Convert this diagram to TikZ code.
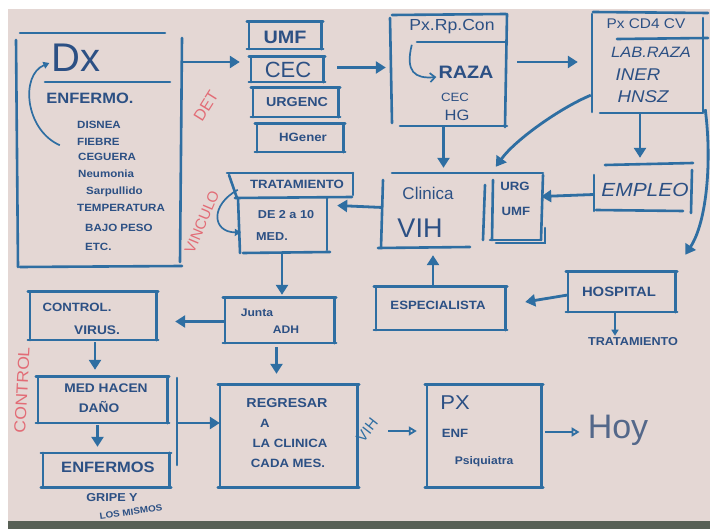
\documentclass[tikz,border=0pt]{standalone}
\usepackage{fontspec}
\newfontfamily\handfont{Liberation Sans}[FakeStretch=1.1]
\newfontfamily\plainfont{Liberation Sans}
\usetikzlibrary{arrows.meta,calc,fit}
\definecolor{paper}{RGB}{228,215,212}
\definecolor{ink}{RGB}{46,110,162}
\definecolor{txt}{RGB}{44,80,132}
\definecolor{redink}{RGB}{226,108,118}
\definecolor{hoyink}{RGB}{84,104,138}
\definecolor{floor}{RGB}{88,96,86}
\newcommand\hsz[1]{\fontsize{#1}{#1}\selectfont}
\newcommand\hb{\handfont\bfseries}
% a marker-drawn box: four separate strokes, top and bottom slightly overhanging
\newcommand\sketchbox[1]{%
  \draw[boxline] ($(#1.north west)+(-2,0)$) -- ($(#1.north east)+(2,0)$);
  \draw[boxline] ($(#1.south west)+(-2,0)$) -- ($(#1.south east)+(2,0)$);
  \draw[boxline] (#1.north west) -- (#1.south west);
  \draw[boxline] (#1.north east) -- (#1.south east);}
\begin{document}
\begin{tikzpicture}[x=1pt,y=-1pt,
  boxline/.style={draw=ink,line width=2.6pt,line cap=round},
  arr/.style={draw=ink,line width=2.8pt,-{Triangle[length=10pt,width=12pt]}},
  oarr/.style={draw=ink,line width=1.8pt,-{Triangle[open,length=8pt,width=9pt]}},
  thinarr/.style={draw=ink,line width=1.7pt,-{Triangle[length=6pt,width=7pt]}},
  area/.style={inner sep=0pt,draw=none},
  lbl/.style={inner sep=0pt,text=txt},
  redlbl/.style={inner sep=0pt,text=redink,font=\plainfont\hsz{16}},
]
% sheet of paper
\useasboundingbox (0,0) rectangle (710,529);
\fill[white] (0,0) rectangle (710,529);
\fill[paper] (8,9) rectangle (710,521);
\fill[floor] (8,521) rectangle (710,529);

% ---------- box areas ----------
\node[area,fit={(18,33) (181,267)}] (dx) {};
\node[area,fit={(249,22) (321,49)}] (umf) {};
\node[area,fit={(251,57) (323,82)}] (cec) {};
\node[area,fit={(253,88) (338,117)}] (urg) {};
\node[area,fit={(257,124) (343,152)}] (hgen) {};
\node[area,fit={(390,15) (507,127)}] (pxrp) {};
\node[area,fit={(592,13) (704,112)}] (cd4) {};
\node[area,fit={(383,173) (487,248)}] (clin) {};
\node[area,fit={(491,173) (543,240)}] (urgumf) {};
\node[area,fit={(594,166) (692,211)}] (empleo) {};
\node[area,fit={(230,173) (353,253)}] (trat) {};
\node[area,fit={(238,198) (328,253)}] (tratb) {};
\node[area,fit={(225,298) (334,343)}] (junta) {};
\node[area,fit={(376,287) (505,330)}] (esp) {};
\node[area,fit={(568,272) (675,312)}] (hosp) {};
\node[area,fit={(220,385) (357,487)}] (regr) {};
\node[area,fit={(427,385) (541,487)}] (pxe) {};
\node[area,fit={(30,292) (156,340)}] (ctrl) {};
\node[area,fit={(38,377) (167,423)}] (med) {};
\node[area,fit={(43,453) (169,487)}] (enf) {};

% ---------- box strokes ----------
% Dx
\draw[boxline] (20,33) -- (165,33);
\draw[boxline] (16,40) -- (18,267);
\draw[boxline] (182,38) -- (180,262);
\draw[boxline] (20,267) -- (182,266);
\draw[boxline] (45,82) -- (170,82);
% Px.Rp.Con
\draw[boxline] (392,15) -- (506,14);
\draw[boxline] (390,18) -- (392,123);
\draw[boxline] (507,14) -- (505,127);
\draw[boxline] (400,126) -- (507,126);
\draw[boxline] (417,42) -- (507,42);
% Px CD4 CV
\draw[boxline] (593,12) -- (708,13);
\draw[boxline] (592,14) -- (592,112);
\draw[boxline] (703,18) -- (703,112);
\draw[boxline] (600,113) -- (703,113);
\draw[boxline] (617,39) -- (708,38);
% Clinica VIH
\draw[boxline] (392,173) -- (543,173);
\draw[boxline] (383,180) -- (381,248);
\draw[boxline] (378,248) -- (470,247);
\draw[boxline] (485,185) -- (483,240);
% URG / UMF
\draw[boxline] (493,180) -- (492,240);
\draw[boxline] (543,175) -- (541,240);
\draw[boxline] (490,240) -- (541,240);
\draw[boxline] (496,243) -- (545,243) -- (545,228);
% Empleo
\draw[boxline] (605,165) -- (693,163);
\draw[boxline] (594,175) -- (594,211);
\draw[boxline] (692,170) -- (691,213);
\draw[boxline] (596,210) -- (683,211);
% Tratamiento
\draw[boxline] (227,173) -- (353,173);
\draw[boxline] (229,175) -- (237,198);
\draw[boxline] (353,173) -- (353,195);
\draw[boxline] (235,198) -- (352,197);
\draw[boxline] (238,198) -- (240,253);
\draw[boxline] (327,198) -- (327,250);
\draw[boxline] (243,253) -- (330,252);
% simple boxes
\sketchbox{umf}
\sketchbox{cec}
\sketchbox{urg}
\sketchbox{hgen}
\sketchbox{junta}
\sketchbox{esp}
\sketchbox{hosp}
\sketchbox{regr}
\sketchbox{pxe}
\sketchbox{ctrl}
\sketchbox{med}
\sketchbox{enf}

% ---------- texts ----------
\node[lbl,font=\plainfont\hsz{40}] (t-dx) at (76,58) {Dx};
\node[lbl,font=\hb\hsz{15}] (t-enfermo) at (90,98) {ENFERMO.};
\begin{scope}[every node/.style={lbl,anchor=west,font=\hb\hsz{10.5}}]
\node (t-l1) at (77,125) {DISNEA};
\node (t-l2) at (77,142) {FIEBRE};
\node (t-l3) at (78,157) {CEGUERA};
\node (t-l4) at (78,174) {Neumonia};
\node (t-l5) at (86,192) {Sarpullido};
\node (t-l6) at (77,208) {TEMPERATURA};
\node (t-l7) at (85,228) {BAJO PESO};
\node (t-l8) at (85,247) {ETC.};
\end{scope}

\node[lbl,font=\hb\hsz{18}] (t-umf) at (285,37) {UMF};
\node[lbl,font=\plainfont\hsz{22}] (t-cec) at (288,70) {CEC};
\node[lbl,font=\hb\hsz{13}] (t-urg) at (297,102) {URGENC};
\node[lbl,font=\hb\hsz{12}] (t-hgen) at (303,137) {HGener};

\node[lbl,font=\handfont\hsz{16}] (t-pxrp) at (452,27) {Px.Rp.Con};
\node[lbl,font=\hb\hsz{18}] (t-raza) at (466,72) {RAZA};
\node[lbl,font=\handfont\hsz{12}] (t-cec2) at (455,97) {CEC};
\node[lbl,font=\handfont\hsz{15}] (t-hg) at (457,115) {HG};

\node[lbl,font=\handfont\hsz{14}] (t-cd4) at (646,24) {Px CD4 CV};
\node[lbl,font=\handfont\itshape\hsz{15}] (t-lab) at (651,52) {LAB.RAZA};
\node[lbl,font=\handfont\itshape\hsz{17}] (t-iner) at (638,75) {INER};
\node[lbl,font=\handfont\itshape\hsz{17}] (t-hnsz) at (643,97) {HNSZ};

\node[lbl,font=\plainfont\hsz{17}] (t-clin) at (428,193) {Clinica};
\node[lbl,font=\plainfont\hsz{27}] (t-vih) at (420,228) {VIH};
\node[lbl,font=\hb\hsz{12}] (t-urg2) at (515,186) {URG};
\node[lbl,font=\hb\hsz{12}] (t-umf2) at (516,211) {UMF};
\node[lbl,font=\handfont\itshape\hsz{19}] (t-empleo) at (645,190) {EMPLEO};

\node[lbl,font=\hb\hsz{12}] (t-trat) at (297,184) {TRATAMIENTO};
\node[lbl,font=\hb\hsz{11.5}] (t-de) at (286,215) {DE 2 a 10};
\node[lbl,font=\hb\hsz{11.5}] (t-med) at (272,237) {MED.};

\node[lbl,font=\hb\hsz{11}] (t-junta) at (257,313) {Junta};
\node[lbl,font=\hb\hsz{11}] (t-adh) at (286,330) {ADH};

\node[lbl,font=\hb\hsz{13}] (t-regr) at (287,403) {REGRESAR};
\node[lbl,font=\hb\hsz{12}] (t-a) at (265,423) {A};
\node[lbl,font=\hb\hsz{12}] (t-lacl) at (290,443) {LA CLINICA};
\node[lbl,font=\hb\hsz{12}] (t-cada) at (288,463) {CADA MES.};
\node[lbl,text=ink,font=\plainfont\hsz{15},rotate=52] (t-vih2) at (367,430) {VIH};

\node[lbl,font=\handfont\hsz{20}] (t-px) at (455,403) {PX};
\node[lbl,font=\hb\hsz{12}] (t-enf2) at (455,433) {ENF};
\node[lbl,font=\hb\hsz{11}] (t-psiq) at (484,462) {Psiquiatra};
\node[lbl,text=hoyink,font=\plainfont\hsz{34}] (hoy) at (618,430) {Hoy};

\node[lbl,font=\hb\hsz{12}] (t-esp) at (438,305) {ESPECIALISTA};
\node[lbl,font=\hb\hsz{13.5}] (t-hosp) at (619,292) {HOSPITAL};
\node[lbl,font=\hb\hsz{11.5}] (htrat) at (633,342) {TRATAMIENTO};

\node[lbl,font=\hb\hsz{12}] (t-ctrl) at (77,307) {CONTROL.};
\node[lbl,font=\hb\hsz{12.5}] (t-virus) at (97,330) {VIRUS.};
\node[lbl,font=\hb\hsz{12.5}] (t-hacen) at (106,388) {MED HACEN};
\node[lbl,font=\hb\hsz{12.5}] (t-dano) at (99,407) {DAÑO};
\node[lbl,font=\hb\hsz{15}] (t-enfermos) at (108,467) {ENFERMOS};
\node[lbl,font=\hb\hsz{11.5}] (t-gripe) at (112,498) {GRIPE Y};
\node[lbl,font=\hb\hsz{9},rotate=8] (t-mismos) at (131,512) {LOS MISMOS};

% red side notes
\node[redlbl,rotate=58] (t-det) at (206,106) {DET};
\node[redlbl,font=\plainfont\hsz{15},rotate=67] (t-vinculo) at (202,222) {VINCULO};
\node[redlbl,font=\handfont\hsz{16},rotate=87] (t-control) at (22,390) {CONTROL};

% ---------- connectors ----------
\coordinate (r62) at (0,62);
\draw[arr] (dx.east |- r62) -- ($(cec.west |- r62)+(-11,0)$);
\draw[arr] ($(cec.east)+(14,-2)$) -- ($(pxrp.west |- cec.east)+(-4,-2)$);
\draw[arr] ($(pxrp.east |- r62)+(10,0)$) -- ($(cd4.west |- r62)+(-14,0)$);
\draw[arr] ($(pxrp.south)+(-5,0)$) -- ($(clin.north -| pxrp.south)+(-5,-5)$);
\draw[arr] ($(cd4.south west)+(-1,-17)$) .. controls (560,108) and (515,140) .. ($(urgumf.north west)+(5,-6)$);
\draw[arr] ($(cd4.south)+(-8,0)$) -- ($(empleo.north -| cd4.south)+(-8,-8)$);
\draw[arr] ($(cd4.south east)+(1,-3)$) .. controls (712,160) and (707,222) .. ($(hosp.north east)+(10,-17)$);
\draw[arr] ($(empleo.west)+(0,6)$) -- ($(urgumf.east)+(-2,-10)$);
\draw[arr] ($(clin.west)+(0,-3)$) -- ($(tratb.east)+(9,-20)$);
\draw[arr] ($(tratb.south)+(-1,0)$) -- ($(junta.north -| tratb.south)+(-1,-3)$);
\draw[arr] ($(junta.west)+(0,1)$) -- ($(ctrl.east |- junta.west)+(19,1)$);
\draw[arr] ($(junta.south)+(-3,4)$) -- ($(regr.north -| junta.south)+(-3,-11)$);
\draw[arr] ($(ctrl.south)+(2,2)$) -- ($(med.north -| ctrl.south)+(2,-7)$);
\draw[arr] ($(med.south)+(-5,2)$) -- ($(enf.north -| med.south)+(-5,-6)$);
\coordinate (brktop) at (177,378);
\coordinate (brkbot) at (177,465);
\coordinate (brk) at (177,423);
\draw[boxline] (brktop) -- (brkbot);
\draw[arr] (brk) -- (regr.west |- brk);
\draw[arr] ($(esp.north)+(-7.5,-2)$) -- ($(clin.south -| esp.north)+(-7.5,7)$);
\draw[arr] ($(hosp.west)+(0,3)$) -- ($(esp.east)+(20,-6.5)$);
\draw[thinarr] ($(hosp.south)+(-6.5,0)$) -- ($(htrat.north -| hosp.south)+(-6.5,-2)$);
\draw[oarr] ($(regr.east)+(31,-5)$) -- ($(pxe.west)+(-10,-5)$);
\draw[oarr] ($(pxe.east)+(4,-4)$) -- ($(hoy.west)+(-8,2)$);

% curved arrows drawn inside boxes
\draw[thinarr] ($(dx.south west)+(42,-122)$) .. controls (25,130) and (20,75) .. ($(t-dx.west)+(-2,5)$);
\draw[draw=ink,line width=1.7pt,-{Straight Barb[length=5pt,width=9pt]}] ($(pxrp.north west)+(22,30)$) .. controls (405,72) and (415,79) .. ($(t-raza.west)+(-2,5)$);
\draw[thinarr] ($(tratb.north west)+(0,-8)$) .. controls (210,205) and (212,232) .. ($(tratb.west)+(3,7)$);
\end{tikzpicture}
\end{document}
